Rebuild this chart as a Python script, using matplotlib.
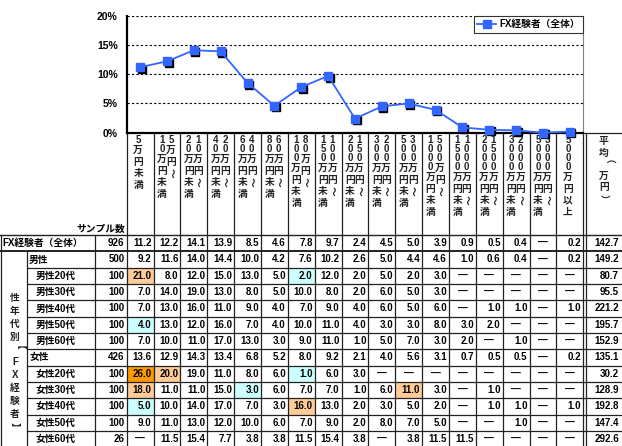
import matplotlib
matplotlib.use('Agg')
import matplotlib.pyplot as plt
from matplotlib.patches import Rectangle
from matplotlib.transforms import offset_copy

plt.rcParams['font.family'] = ['Liberation Sans', 'Noto Sans CJK JP', 'DejaVu Sans']

# 列見出し(金額帯)
columns = ['5万円未満', '5万円～10万円未満', '10万円～20万円未満', '20万円～40万円未満',
           '40万円～60万円未満', '60万円～80万円未満', '80万円～100万円未満',
           '100万円～150万円未満', '150万円～200万円未満', '200万円～300万円未満',
           '300万円～500万円未満', '500万円～1000万円未満', '1000万円～1500万円未満',
           '1500万円～2000万円未満', '2000万円～3000万円未満', '3000万円～5000万円未満',
           '5000万円以上']
avg_header = '平均（万円）'
legend_label = 'FX経験者（全体）'
yticks = [0, 5, 10, 15, 20]

# 行ラベル / レベル(0=全体, 1=性別, 2=年代)
row_labels = ['FX経験者（全体）', '男性', '男性20代', '男性30代', '男性40代', '男性50代', '男性60代',
              '女性', '女性20代', '女性30代', '女性40代', '女性50代', '女性60代']
row_levels = [0, 1, 2, 2, 2, 2, 2, 1, 2, 2, 2, 2, 2]
samples = [926, 500, 100, 100, 100, 100, 100, 426, 100, 100, 100, 100, 26]
group_label = '性年代別【FX経験者】'

N = None  # "—"
fx_total = [11.2, 12.2, 14.1, 13.9, 8.5, 4.6, 7.8, 9.7, 2.4, 4.5, 5.0, 3.9, 0.9, 0.5, 0.4, N, 0.2]
male = [9.2, 11.6, 14.0, 14.4, 10.0, 4.2, 7.6, 10.2, 2.6, 5.0, 4.4, 4.6, 1.0, 0.6, 0.4, N, 0.2]
male20 = [21.0, 8.0, 12.0, 15.0, 13.0, 5.0, 2.0, 12.0, 2.0, 5.0, 2.0, 3.0, N, N, N, N, N]
male30 = [7.0, 14.0, 19.0, 13.0, 8.0, 5.0, 10.0, 8.0, 2.0, 6.0, 5.0, 3.0, N, N, N, N, N]
male40 = [7.0, 13.0, 16.0, 11.0, 9.0, 4.0, 7.0, 9.0, 4.0, 6.0, 5.0, 6.0, N, 1.0, 1.0, N, 1.0]
male50 = [4.0, 13.0, 12.0, 16.0, 7.0, 4.0, 10.0, 11.0, 4.0, 3.0, 3.0, 8.0, 3.0, 2.0, N, N, N]
male60 = [7.0, 10.0, 11.0, 17.0, 13.0, 3.0, 9.0, 11.0, 1.0, 5.0, 7.0, 3.0, 2.0, N, 1.0, N, N]
female = [13.6, 12.9, 14.3, 13.4, 6.8, 5.2, 8.0, 9.2, 2.1, 4.0, 5.6, 3.1, 0.7, 0.5, 0.5, N, 0.2]
female20 = [26.0, 20.0, 19.0, 11.0, 8.0, 6.0, 1.0, 6.0, 3.0, N, N, N, N, N, N, N, N]
female30 = [18.0, 11.0, 11.0, 15.0, 3.0, 6.0, 7.0, 7.0, 1.0, 6.0, 11.0, 3.0, N, 1.0, N, N, N]
female40 = [5.0, 10.0, 14.0, 17.0, 7.0, 3.0, 16.0, 13.0, 2.0, 3.0, 5.0, 2.0, N, 1.0, 1.0, N, 1.0]
female50 = [9.0, 11.0, 13.0, 12.0, 10.0, 6.0, 7.0, 9.0, 2.0, 8.0, 7.0, 5.0, N, N, 1.0, N, N]
female60 = [N, 11.5, 15.4, 7.7, 3.8, 3.8, 11.5, 15.4, 3.8, N, 3.8, 11.5, 11.5, N, N, N, N]
averages = [142.7, 149.2, 80.7, 95.5, 221.2, 195.7, 152.9, 135.1, 30.2, 128.9, 192.8, 147.4, 292.6]
table = [fx_total, male, male20, male30, male40, male50, male60,
         female, female20, female30, female40, female50, female60]

# 網掛けセル (行, 列)
high_strong = [(8, 0)]
high_up = [(2, 0), (8, 1), (9, 0), (9, 10), (10, 6)]
high_down = [(2, 6), (5, 0), (8, 6), (9, 4), (10, 0)]

# レイアウト(ピクセル)
W, H = 622, 446
X0 = 126.7
CW = 26.86
XR = X0 + CW * len(columns)
AXB = 132.7
AXT = 15.7
T0 = 235
RH = 16.33
FS = 7
LC = '#222222'

fig = plt.figure(figsize=(W / 100, H / 100), dpi=100)
ax = fig.add_axes([0, 0, 1, 1])
ax.set_xlim(0, W)
ax.set_ylim(H, 0)
ax.axis('off')

# ---- 折れ線グラフ ----
cx = fig.add_axes([X0 / W, 1 - AXB / H, (XR - X0) / W, (AXB - AXT) / H])
cx.set_zorder(3)
cx.patch.set_alpha(0)
xs = [i + 0.5 for i in range(len(columns))]
ys = [v if v is not None else 0 for v in fx_total]
shadow = offset_copy(cx.transData, fig=fig, x=1.6, y=-1.6, units='dots')
cx.plot(xs, ys, 's', color='black', ms=5.6, transform=shadow, clip_on=False, zorder=3)
cx.plot(xs, ys, '-s', color='#3366FF', ms=5.6, lw=1.3, clip_on=False, zorder=4, label=legend_label)
cx.set_xlim(0, len(columns))
cx.set_ylim(0, 20)
cx.set_xticks([])
cx.set_yticks(yticks)
cx.set_yticklabels(['%d%%' % t for t in yticks], fontsize=7.5, fontweight='bold')
cx.tick_params(axis='y', length=0, pad=6.5)
for t in yticks[1:]:
    cx.axhline(t, color='black', lw=0.8, ls=(0, (2, 2)), zorder=1)
cx.spines['top'].set_visible(False)
cx.spines['left'].set_linewidth(1.6)
cx.spines['bottom'].set_linewidth(1.6)
cx.spines['right'].set_color('#808080')
cx.spines['right'].set_linewidth(0.8)
leg = cx.legend(loc='upper right', bbox_to_anchor=(1, 1), borderaxespad=0, fancybox=False,
                framealpha=1, edgecolor='#333333', prop={'size': 7, 'weight': 'bold'},
                handlelength=2.0, handletextpad=0.3, borderpad=0.35)
leg.get_frame().set_linewidth(0.8)

# ---- 網掛け ----
for cells, col in [(high_strong, '#FF9900'), (high_up, '#FFCC99'), (high_down, '#CCFFFF')]:
    for r, c in cells:
        ax.add_patch(Rectangle((X0 + CW * c, T0 + RH * r), CW, RH, color=col, lw=0, zorder=0))


# ---- 縦書き見出し ----
def vtext(x, top, s, step_d=9.0, step_k=11.5, **kw):
    y = top
    for ch in s:
        st = step_d if ch.isascii() else step_k
        rot = 270 if ch in '～（）【】' else 0
        ax.text(x, y + st / 2, ch, ha='center', va='center', rotation=rot,
                fontsize=FS, fontweight='bold', color='#222222', **kw)
        y += st


for i, lab in enumerate(columns):
    left = X0 + CW * i
    if '～' in lab:
        a, b = lab.split('～')
        vtext(left + 17.6, 135.5, a + '～')
        vtext(left + 8.3, 135.5, b)
    else:
        vtext(left + 11.5, 135.5, lab)
vtext((XR + 2.2 + W) / 2, 135.5, avg_header)
vtext(15, 292, group_label, step_d=12.8, step_k=12.8)

ax.text(125, T0 - 1.5, 'サンプル数', ha='right', va='bottom', fontsize=FS, fontweight='bold')

# ---- 表の値 ----
for r, vals in enumerate(table):
    yc = T0 + RH * (r + 0.5)
    lx = [2, 29, 36][row_levels[r]]
    ax.text(lx, yc, row_labels[r], ha='left', va='center', fontsize=FS, fontweight='bold')
    ax.text(124.5, yc, str(samples[r]), ha='right', va='center', fontsize=FS, fontweight='bold')
    for c, v in enumerate(vals):
        left = X0 + CW * c
        if v is None:
            ax.text(left + CW / 2, yc, '—', ha='center', va='center', fontsize=FS, fontweight='bold')
        else:
            ax.text(left + CW - 2, yc, '%.1f' % v, ha='right', va='center', fontsize=FS, fontweight='bold')
    ax.text(W - 3, yc, '%.1f' % averages[r], ha='right', va='center', fontsize=FS, fontweight='bold')

# ---- 罫線 ----
nrows = len(table)
for i in range(len(columns) + 1):
    ax.plot([X0 + CW * i] * 2, [AXB, H], color=LC, lw=0.9, zorder=2)
ax.plot([XR + 2.2] * 2, [AXB, H], color=LC, lw=0.9, zorder=2)
ax.plot([XR, W], [AXB, AXB], color=LC, lw=0.9, zorder=2)
ax.plot([0.5] * 2, [T0, H], color=LC, lw=0.9)
ax.plot([27] * 2, [T0 + RH, H], color=LC, lw=0.9)
ax.plot([95] * 2, [T0, H], color=LC, lw=0.9)
ax.plot([0, W], [T0, T0], color=LC, lw=1.0)
ax.plot([0, W], [T0 + RH, T0 + RH], color=LC, lw=1.4)
for r in range(2, nrows + 1):
    ax.plot([27, W], [T0 + RH * r] * 2, color=LC, lw=0.9)

fig.savefig('out.png', dpi=100)
